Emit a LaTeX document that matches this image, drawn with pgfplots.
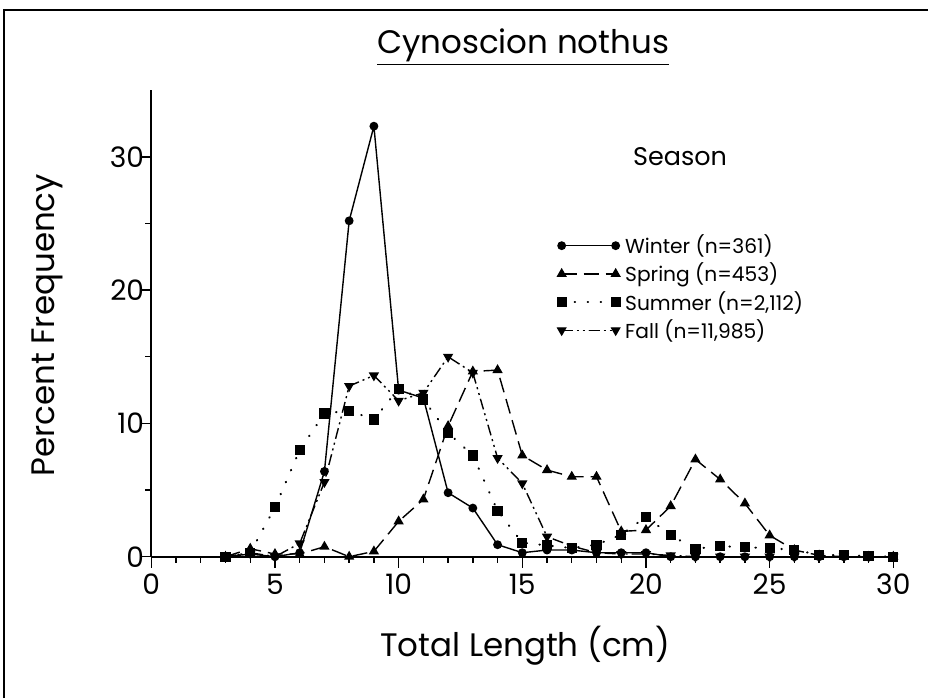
\documentclass[border=0pt]{standalone}
\usepackage{fontspec}
\setmainfont{Poppins}
\usepackage{pgfplots}
\pgfplotsset{compat=1.18}

\pgfplotstableread{
x winter spring summer fall
3  0     0     0     0
4  0.2   0.6   0.3   0.3
5  0     0.2   3.7   0
6  0.3   0.2   8.0   1.0
7  6.4   0.75  10.75 5.6
8  25.2  0     10.95 12.8
9  32.3  0.4   10.3  13.6
10 12.5  2.65  12.6  11.7
11 11.9  4.3   11.8  12.3
12 4.8   9.8   9.3   15.0
13 3.65  13.9  7.6   13.8
14 0.9   14.0  3.45  7.4
15 0.3   7.6   1.05  5.5
16 0.5   6.5   0.85  1.5
17 0.5   6.0   0.65  0.8
18 0.3   6.0   0.9   0.3
19 0.3   1.9   1.65  0.2
20 0.3   2.0   3.0   0.2
21 0     3.8   1.6   0.1
22 0     7.3   0.6   0
23 0     5.8   0.8   0
24 0     4.0   0.7   0
25 0     1.6   0.65  0
26 0     0.5   0.5   0
27 0     0.1   0.15  0
28 0     0     0.1   0
29 0     0     0.05  0
30 0     0     0     0
}\seasons

\begin{document}
\begin{tikzpicture}
\useasboundingbox (0,0) rectangle (18.6cm,13.96cm);
\draw[line width=1pt] (0.08cm,0) -- (0.08cm,13.76cm) -- (18.55cm,13.76cm);
\begin{axis}[
  at={(3.026cm,2.826cm)},anchor=south west,
  scale only axis,width=14.84cm,height=9.33cm,
  xmin=0,xmax=30,ymin=0,ymax=35,
  axis lines=left,axis line style={line width=1pt,-},
  xtick={0,5,...,30},minor x tick num=4,
  ytick={0,10,20,30},minor y tick num=1,
  tick align=outside,major tick length=0.22cm,minor tick length=0.12cm,
  tick style={line width=0.8pt,black},
  /pgf/number format/assume math mode=true,
  tick label style={font=\fontsize{16}{18}\selectfont},
  yticklabel style={xshift=0.2cm},
  xlabel={Total Length (cm)},ylabel={Percent Frequency},
  label style={font=\fontsize{18.5}{21}\selectfont},
  xlabel style={at={(axis description cs:0.504,-0.19)},anchor=center},
  ylabel style={at={(axis description cs:-0.14,0.496)},anchor=center},
  title={\underline{Cynoscion nothus}},
  title style={font=\fontsize{18.5}{21}\selectfont,at={(axis description cs:0.501,1.07)},anchor=center},
  clip=false,
  legend image code/.code={\draw[#1,mark repeat=2,mark phase=1] plot coordinates {(0cm,0cm) (0.54cm,0cm) (1.08cm,0cm)};},
  legend style={draw=none,fill=none,at={(axis cs:16.4,24.3)},anchor=north west,
    font=\fontsize{11.5}{13}\selectfont,inner sep=0pt,row sep=1.8pt,nodes={inner sep=1pt}},
  legend cell align=left,
]
  \addplot[black,line width=0.8pt,mark=*,mark size=2.1pt,mark options={solid}] table[x=x,y=winter] {\seasons};
  \addplot[black,line width=0.8pt,dash pattern=on 0.3cm off 0.14cm,mark=triangle*,mark size=2.6pt,mark options={solid}] table[x=x,y=spring] {\seasons};
  \addplot[black,line width=1.2pt,line cap=round,dash pattern=on 0.01cm off 0.25cm,mark=square*,mark size=2.5pt,mark options={solid,line width=0.8pt}] table[x=x,y=summer] {\seasons};
  \addplot[black,line width=0.8pt,dash pattern=on 0.22cm off 0.08cm on 0.04cm off 0.08cm on 0.04cm off 0.08cm,mark=triangle*,mark size=2.6pt,mark options={solid,rotate=180}] table[x=x,y=fall] {\seasons};
  \legend{{\,Winter (n=361)},{\,Spring (n=453)},{\,Summer (n=2,112)},{\,Fall (n=11,985)}}
  \node[font=\fontsize{14.5}{16}\selectfont] at (axis cs:21.38,30.0) {Season};
\end{axis}
\end{tikzpicture}
\end{document}
